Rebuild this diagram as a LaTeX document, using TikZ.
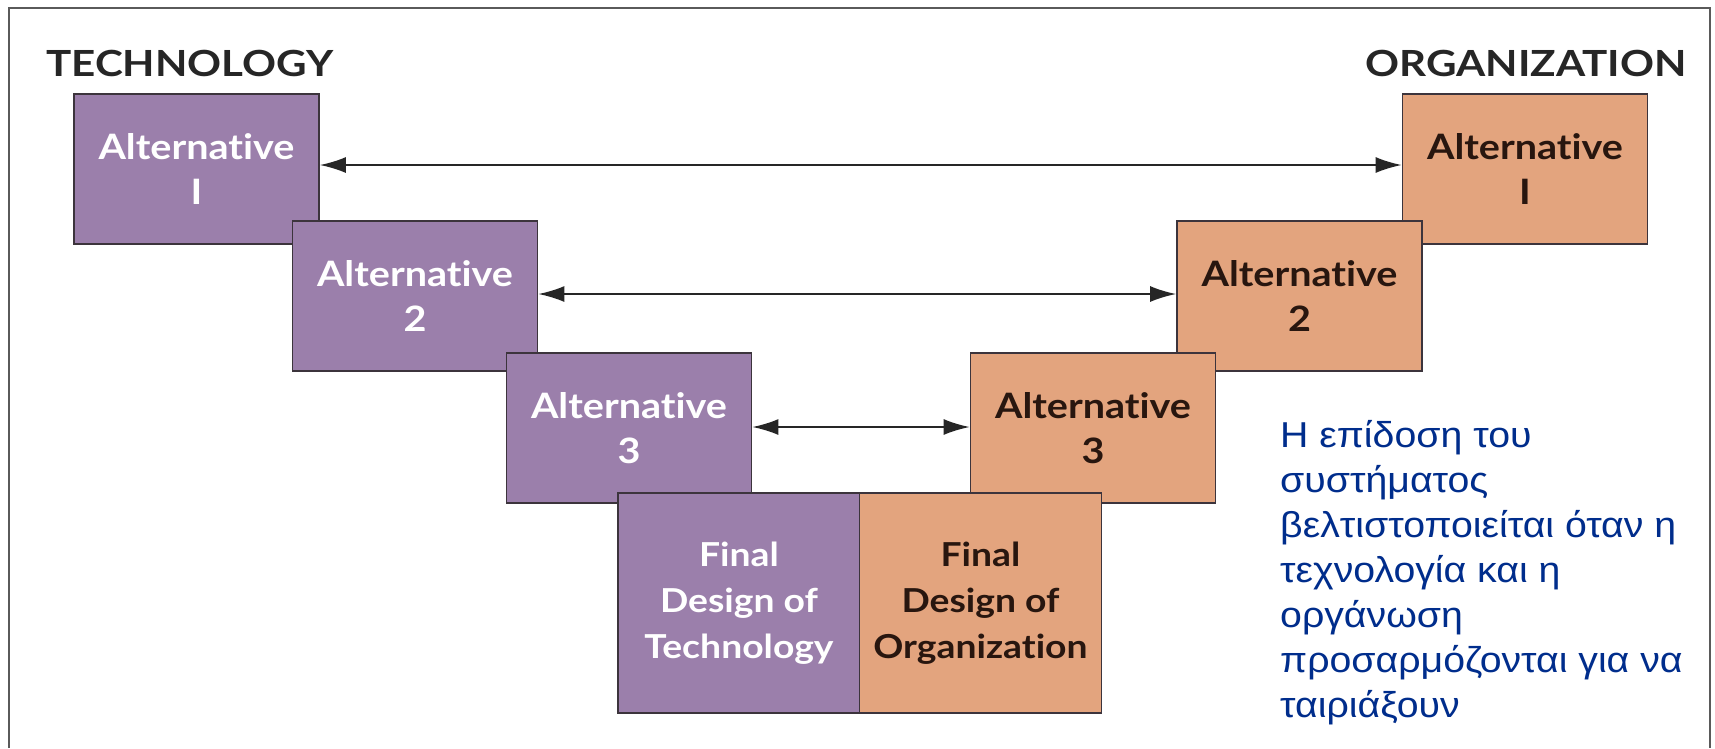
\documentclass[tikz,border=0pt]{standalone}
\usepackage{fontspec}
\setmainfont{Lato}[Ligatures=NoCommon]
\newfontfamily\boxfont{Lato}[FakeStretch=1.13, Ligatures=NoCommon]
\newfontfamily\headfont{Lato}[FakeStretch=1.17, Ligatures=NoCommon]
\newfontfamily\greekfont{Liberation Sans}[FakeStretch=1.09]
\usetikzlibrary{arrows.meta}
\definecolor{techfill}{RGB}{155,127,171}
\definecolor{orgfill}{RGB}{227,164,126}
\definecolor{boxline}{RGB}{60,52,60}
\definecolor{greekblue}{RGB}{0,45,140}
\definecolor{orgtext}{RGB}{40,22,15}
\definecolor{framegray}{RGB}{90,90,90}
\begin{document}
\begin{tikzpicture}[x=1pt,y=-1pt,
  altbox/.style={draw=boxline, line width=1.8pt, minimum width=245pt, minimum height=150pt, inner sep=0pt, align=center, font=\boxfont\fontsize{35}{45}\selectfont\bfseries},
  finalbox/.style={altbox, minimum width=242pt, minimum height=220pt, font=\boxfont\fontsize{33}{46}\selectfont\bfseries},
  tech/.style={fill=techfill, text=white},
  org/.style={fill=orgfill, text=orgtext},
  link/.style={line width=1.8pt, draw=black!85, {Latex[length=26pt,width=16pt]}-{Latex[length=26pt,width=16pt]}},
  header/.style={font=\headfont\fontsize{36}{40}\selectfont\bfseries, text=black!85, inner sep=0pt}]
\useasboundingbox (0,0) rectangle (1715,748);
\fill[white] (0,0) rectangle (1715,748);
\draw[framegray, line width=1.5pt] (9,748) -- (9,8) -- (1710,8) -- (1710,748);

\node[header, anchor=base west] (hT) at (46,76) {TECHNOLOGY};
\node[header, anchor=base east] (hO) at (1687,76) {ORGANIZATION};

\node[altbox, tech] (t1) at (196.5,169) {Alternative\\I};
\node[altbox, org] (o1) at (1525,169) {Alternative\\I};
\node[altbox, tech] (t2) at (415,296) {Alternative\\2};
\node[altbox, org] (o2) at (1299.5,296) {Alternative\\2};
\node[altbox, tech] (t3) at (629,428) {Alternative\\3};
\node[altbox, org] (o3) at (1093,428) {Alternative\\3};
\node[finalbox, tech] (ft) at (739,603) {Final\\Design of\\Technology};
\node[finalbox, org] (fo) at (980.5,603) {Final\\Design of\\Organization};

\draw[link] ([yshift=4pt]t1.east) -- ([yshift=4pt]o1.west);
\draw[link] ([yshift=2pt]t2.east) -- ([yshift=2pt]o2.west);
\draw[link] ([yshift=1pt]t3.east) -- ([yshift=1pt]o3.west);

\node[anchor=north west, inner sep=0pt, align=left, text=greekblue,
  font=\greekfont\fontsize{36}{45}\selectfont] (note) at (1280,420)
  {Η επίδοση του\\συστήματος\\βελτιστοποιείται όταν η\\τεχνολογία και η\\οργάνωση\\προσαρμόζονται για να\\ταιριάξουν};
\end{tikzpicture}
\end{document}
